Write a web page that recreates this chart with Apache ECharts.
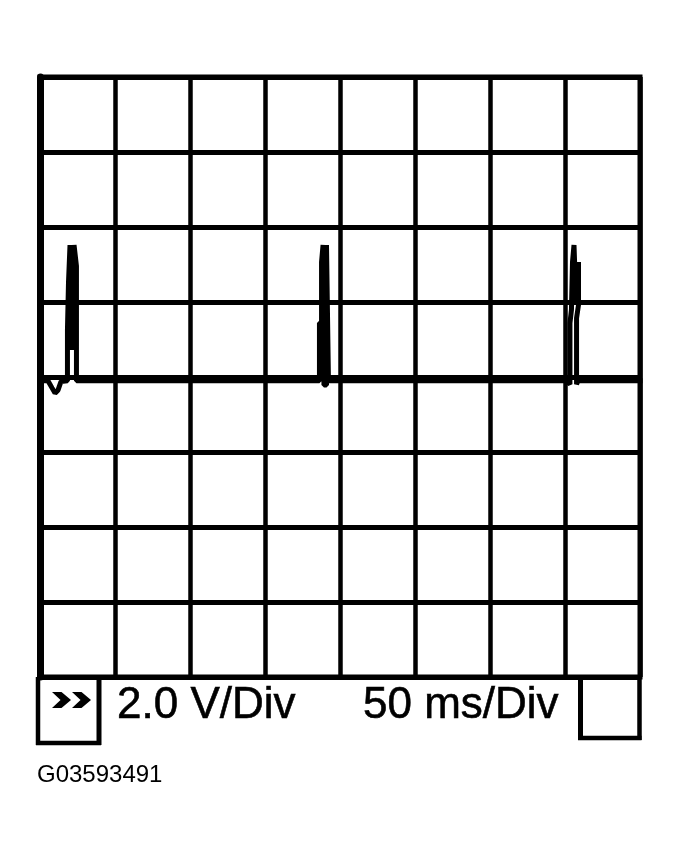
<!DOCTYPE html>
<html>
<head>
<meta charset="utf-8">
<script src="https://cdn.jsdelivr.net/npm/echarts@6/dist/echarts.min.js"></script>
<style>
html,body{margin:0;padding:0;background:#fff;}
#chart{width:679px;height:858px;}
</style>
</head>
<body>
<div id="chart"></div>
<script>
// Time axis (ms) and voltage axis (V)
var timeMin = 0, timeMax = 400, timeDiv = 50;
var voltMin = -8, voltMax = 8, voltDiv = 2;
var voltLabel = '2.0 V/Div';
var timeLabel = '50 ms/Div';
var figureId = 'G03593491';

// Trace samples (ms, V)
var traceTime = [0, 5.3, 8, 10, 12, 14, 18.3, 18.3, 19, 20, 20.7, 21, 22.3, 22.7, 23.3, 24.3, 24.3,
  186.3, 186.3, 187.7, 187.7, 188.7, 189.3, 189.3, 191, 191, 192.3, 192.3,
  350.7, 353.3, 353.3, 354.3, 355, 356, 357.3, 357.3, 359, 359, 357.7, 357.7, 358.7, 400];
var traceVolt = [-0.1, -0.1, -0.29, -0.43, -0.35, -0.12, -0.1, 1.25, 2.53, 3.52, 3.52, 0.72, 0.72, 3.52, 3.52, 2.96, -0.1,
  -0.1, 1.44, 1.44, 3.07, 3.52, 3.52, -0.21, -0.21, 3.52, 3.52, -0.1,
  -0.1, -0.19, 1.44, 1.79, 3.07, 3.52, 3.52, 2.05, 3.07, 1.92, 1.57, -0.19, -0.1, -0.1];

var traceData = traceTime.map(function (t, i) { return [t, traceVolt[i]]; });

var chart = echarts.init(document.getElementById('chart'), null, {renderer: 'canvas'});

function chevron(x0, y0, w, h) {
  return {
    type: 'polygon', z: 100,
    shape: {points: [[x0, y0], [x0 + w * 0.5, y0], [x0 + w, y0 + h / 2], [x0 + w * 0.5, y0 + h], [x0, y0 + h], [x0 + w * 0.45, y0 + h / 2]]},
    style: {fill: '#000'}
  };
}
function line(x1, y1, x2, y2, w) {
  return {type: 'line', z: 100, shape: {x1: x1, y1: y1, x2: x2, y2: y2}, style: {stroke: '#000', lineWidth: w}};
}

var option = {
  backgroundColor: '#fff',
  animation: false,
  grid: {left: 40, top: 77, width: 600, height: 600, show: true, borderColor: '#000', borderWidth: 5, backgroundColor: '#fff'},
  xAxis: {
    type: 'value', min: timeMin, max: timeMax, interval: timeDiv,
    axisLabel: {show: false}, axisTick: {show: false}, axisLine: {show: false},
    splitLine: {show: true, lineStyle: {color: '#000', width: 4.5}}
  },
  yAxis: {
    type: 'value', min: voltMin, max: voltMax, interval: voltDiv,
    axisLabel: {show: false}, axisTick: {show: false},
    axisLine: {show: true, onZero: false, lineStyle: {color: '#000', width: 7}},
    splitLine: {show: true, lineStyle: {color: '#000', width: 5}}
  },
  series: [{
    type: 'line', data: traceData, symbol: 'none', z: 10,
    lineStyle: {color: '#000', width: 5, join: 'bevel', cap: 'square'}
  }],
  graphic: [
    // bottom panel frame
    line(38, 677, 38, 745, 4.5),
    line(36, 743, 101, 743, 4.5),
    line(99, 679, 99, 745, 5),
    line(580.5, 679, 580.5, 740, 5),
    line(578, 738, 641.5, 738, 4.5),
    line(639.5, 677, 639.5, 740, 4.5),
    chevron(52, 692, 19, 16),
    chevron(72, 692, 19, 16),
    {type: 'text', z: 100, x: 117, y: 706, style: {text: voltLabel, fill: '#000', stroke: '#000', lineWidth: 0.6, font: '44px "Liberation Sans", Arial, sans-serif', verticalAlign: 'middle'}},
    {type: 'text', z: 100, x: 363, y: 706, style: {text: timeLabel, fill: '#000', stroke: '#000', lineWidth: 0.6, font: '44px "Liberation Sans", Arial, sans-serif', verticalAlign: 'middle'}},
    {type: 'text', z: 100, x: 37, y: 775, style: {text: figureId, fill: '#000', font: '24px "Liberation Sans", Arial, sans-serif', verticalAlign: 'middle'}}
  ]
};
chart.setOption(option);
</script>
</body>
</html>
